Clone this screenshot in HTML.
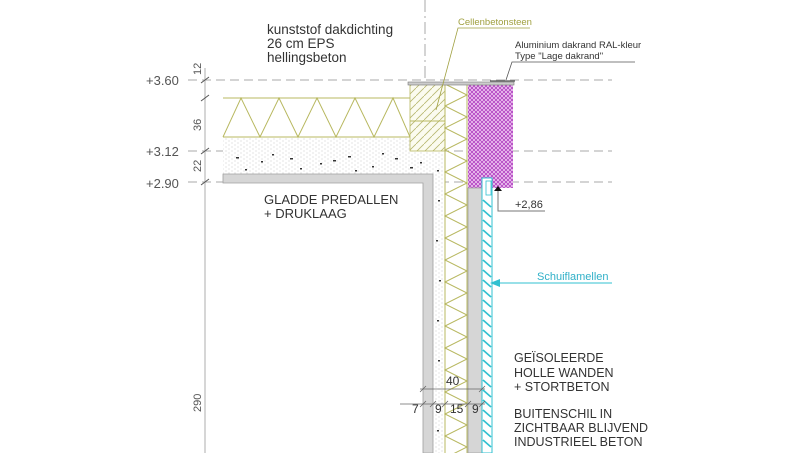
<!DOCTYPE html>
<html><head><meta charset="utf-8"><style>
html,body{margin:0;padding:0;background:#fff;}
svg{display:block;}
text{font-family:"Liberation Sans",sans-serif;}
</style></head><body>
<svg width="805" height="453" viewBox="0 0 805 453" xmlns="http://www.w3.org/2000/svg">
<defs>
<pattern id="purp" width="4" height="4" patternUnits="userSpaceOnUse">
<rect width="4" height="4" fill="#f0c8f2"/><path d="M0 0L4 4M4 0L0 4" stroke="#b040c0" stroke-width="0.8"/>
</pattern>
<pattern id="dots" width="6" height="4" patternUnits="userSpaceOnUse">
<rect width="6" height="4" fill="#fff"/><circle cx="1" cy="1" r="0.5" fill="#bbb"/><circle cx="4" cy="3" r="0.5" fill="#bbb"/>
</pattern>
<pattern id="cel" width="8" height="8" patternUnits="userSpaceOnUse">
<rect width="8" height="8" fill="#fbfbef"/><path d="M0 8L8 0" stroke="#b8b870" stroke-width="0.8"/>
</pattern>
</defs>

<g stroke="#aaa" stroke-width="1" stroke-dasharray="9,5" fill="none">
<line x1="188" y1="80" x2="612" y2="80"/>
<line x1="188" y1="151" x2="612" y2="151"/>
<line x1="188" y1="182" x2="612" y2="182"/>
<line x1="425" y1="0" x2="425" y2="82" stroke-dasharray="12,4,2,4"/>
</g>

<line x1="205" y1="68" x2="205" y2="453" stroke="#c8c8c8" stroke-width="1.5"/>
<g stroke="#555" stroke-width="1">
<line x1="201" y1="83" x2="209" y2="77"/><line x1="201" y1="101" x2="209" y2="95"/>
<line x1="201" y1="154" x2="209" y2="148"/><line x1="201" y1="185" x2="209" y2="179"/>
</g>
<g fill="#555" font-size="13">
<text x="146" y="85">+3.60</text>
<text x="146" y="156">+3.12</text>
<text x="146" y="188">+2.90</text>
<text transform="translate(201,75) rotate(-90)" font-size="11">12</text>
<text transform="translate(201,131) rotate(-90)" font-size="11">36</text>
<text transform="translate(201,172) rotate(-90)" font-size="11">22</text>
<text transform="translate(201,412) rotate(-90)" font-size="11">290</text>
</g>

<rect x="223" y="151" width="222" height="24" fill="url(#dots)"/>
<rect x="433" y="151" width="12" height="302" fill="url(#dots)"/>
<g fill="#333">
<rect x="236" y="157" width="3" height="1.5"/><rect x="261" y="161" width="2" height="1.5"/><rect x="290" y="158" width="3" height="1.5"/>
<rect x="320" y="163" width="2" height="1.5"/><rect x="348" y="156" width="3" height="1.5"/><rect x="372" y="166" width="2" height="1.5"/>
<rect x="395" y="158" width="3" height="1.5"/><rect x="420" y="162" width="2" height="1.5"/><rect x="437" y="170" width="2" height="1.5"/>
<rect x="438" y="200" width="2" height="1.5"/><rect x="436" y="240" width="2" height="1.5"/><rect x="439" y="280" width="2" height="1.5"/>
<rect x="437" y="320" width="2" height="1.5"/><rect x="438" y="360" width="2" height="1.5"/><rect x="437" y="430" width="2" height="1.5"/>
<rect x="300" y="168" width="2" height="1.5"/><rect x="245" y="169" width="2" height="1.5"/>
<rect x="333" y="160" width="3" height="1.5"/><rect x="382" y="153" width="2" height="1.5"/><rect x="272" y="154" width="2" height="1.5"/>
<rect x="410" y="167" width="3" height="1.5"/><rect x="355" y="170" width="2" height="1.5"/>
</g>
<path d="M223 174H433V453H423V183H223Z" fill="#d6d6d6" stroke="#a0a0a0" stroke-width="0.8"/>

<rect x="223" y="137" width="187" height="14" fill="url(#dots)"/>
<g stroke="#b8b860" stroke-width="1" fill="none">
<line x1="223" y1="98" x2="410" y2="98"/><line x1="223" y1="137" x2="410" y2="137"/>
<polyline points="223,137 241,98 260,137 279,98 298,137 317,98 336,137 355,98 374,137 393,98 410,137"/>
</g>

<rect x="410" y="84" width="35" height="67" fill="url(#cel)" stroke="#b8b860" stroke-width="0.8"/>
<line x1="410" y1="121" x2="445" y2="121" stroke="#b8b860"/>

<g stroke="#b8b860" stroke-width="1" fill="none">
<line x1="445" y1="84" x2="445" y2="453"/><line x1="467" y1="84" x2="467" y2="453"/>
<polyline points="445,84 467,95 445,106 467,117 445,128 467,139 445,150 467,161 445,172 467,183 445,194 467,205 445,216 467,227 445,238 467,249 445,260 467,271 445,282 467,293 445,304 467,315 445,326 467,337 445,348 467,359 445,370 467,381 445,392 467,403 445,414 467,425 445,436 467,447 445,458"/>
</g>

<rect x="468" y="84" width="45" height="104" fill="url(#purp)"/>
<rect x="468" y="188" width="14" height="265" fill="#d6d6d6" stroke="#a0a0a0" stroke-width="0.8"/>
<rect x="408" y="82" width="106" height="3" fill="#ccc" stroke="#777" stroke-width="0.6"/>
<line x1="490" y1="81" x2="515" y2="81" stroke="#555" stroke-width="1.2"/>

<rect x="482" y="178" width="10" height="275" fill="#fff" stroke="#30c0d0" stroke-width="1"/>
<g stroke="#30c0d0" stroke-width="1.6">
<line x1="483" y1="200" x2="491" y2="207"/>
<line x1="483" y1="210" x2="491" y2="217"/><line x1="483" y1="220" x2="491" y2="227"/><line x1="483" y1="230" x2="491" y2="237"/>
<line x1="483" y1="240" x2="491" y2="247"/><line x1="483" y1="250" x2="491" y2="257"/><line x1="483" y1="260" x2="491" y2="267"/>
<line x1="483" y1="270" x2="491" y2="277"/><line x1="483" y1="280" x2="491" y2="287"/><line x1="483" y1="290" x2="491" y2="297"/>
<line x1="483" y1="300" x2="491" y2="307"/><line x1="483" y1="310" x2="491" y2="317"/><line x1="483" y1="320" x2="491" y2="327"/>
<line x1="483" y1="330" x2="491" y2="337"/><line x1="483" y1="340" x2="491" y2="347"/><line x1="483" y1="350" x2="491" y2="357"/>
<line x1="483" y1="360" x2="491" y2="367"/><line x1="483" y1="370" x2="491" y2="377"/><line x1="483" y1="380" x2="491" y2="387"/>
<line x1="483" y1="390" x2="491" y2="397"/><line x1="483" y1="400" x2="491" y2="407"/><line x1="483" y1="410" x2="491" y2="417"/>
<line x1="483" y1="420" x2="491" y2="427"/><line x1="483" y1="430" x2="491" y2="437"/><line x1="483" y1="440" x2="491" y2="447"/>
</g>
<rect x="486" y="181" width="5" height="14" fill="none" stroke="#30c0d0" stroke-width="0.8"/>

<path d="M494 191L498 186L502 191Z" fill="#111"/>
<polyline points="498,191 498,211 545,211" fill="none" stroke="#777" stroke-width="1"/>
<text x="515" y="208" font-size="11" fill="#333">+2,86</text>

<line x1="494" y1="283" x2="612" y2="283" stroke="#30c0d0" stroke-width="1"/>
<path d="M490 283L500 279L500 287Z" fill="#30c0d0"/>
<text x="537" y="280" font-size="11" fill="#30b0c8">Schuiflamellen</text>

<polyline points="436,110 458,28 530,28" fill="none" stroke="#a0a040" stroke-width="0.8"/>
<text x="458" y="25" font-size="9.5" fill="#a0a040">Cellenbetonsteen</text>
<polyline points="506,80 512,62 635,62" fill="none" stroke="#555" stroke-width="0.8"/>
<text x="515" y="48" font-size="9.5" fill="#333">Aluminium dakrand RAL-kleur</text>
<text x="515" y="59" font-size="9.5" fill="#333">Type "Lage dakrand"</text>

<g fill="#333" font-size="13.5">
<text x="267" y="34">kunststof dakdichting</text>
<text x="267" y="48">26 cm EPS</text>
<text x="267" y="62">hellingsbeton</text>
<text x="264" y="204" font-size="13">GLADDE PREDALLEN</text>
<text x="264" y="218" font-size="13">+ DRUKLAAG</text>
<g font-size="12.5">
<text x="514" y="362">GEÏSOLEERDE</text>
<text x="514" y="377">HOLLE WANDEN</text>
<text x="514" y="391">+ STORTBETON</text>
<text x="514" y="418">BUITENSCHIL IN</text>
<text x="514" y="432">ZICHTBAAR BLIJVEND</text>
<text x="514" y="446">INDUSTRIEEL BETON</text>
</g>
</g>

<g stroke="#666" stroke-width="0.8">
<line x1="420" y1="389" x2="485" y2="389"/>
<line x1="400" y1="404" x2="485" y2="404"/>
<line x1="420" y1="392" x2="426" y2="386"/><line x1="479" y1="392" x2="485" y2="386"/>
<line x1="420" y1="407" x2="426" y2="401"/><line x1="430" y1="407" x2="436" y2="401"/><line x1="442" y1="407" x2="448" y2="401"/>
<line x1="465" y1="407" x2="471" y2="401"/><line x1="479" y1="407" x2="485" y2="401"/>
</g>
<g font-size="12" fill="#333">
<text x="446" y="385">40</text>
<text x="412" y="413">7</text>
<text x="435" y="413">9</text>
<text x="450" y="413">15</text>
<text x="472" y="413">9</text>
</g>
</svg>
</body></html>
